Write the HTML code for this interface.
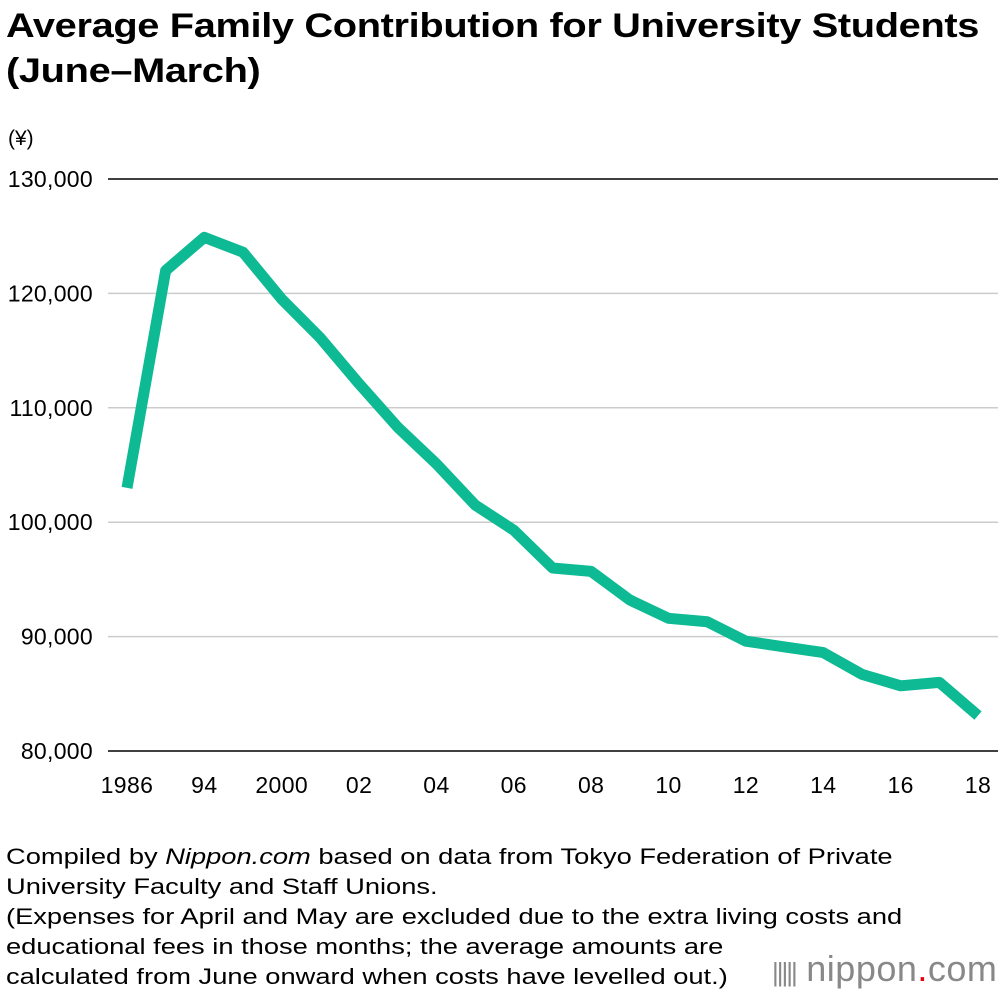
<!DOCTYPE html>
<html><head><meta charset="utf-8"><style>
body{margin:0;width:1000px;height:992px;background:#fff;font-family:"Liberation Sans",sans-serif;color:#000;overflow:hidden;position:relative}
.title{position:absolute;left:6px;top:4px;font-size:34px;font-weight:bold;line-height:45px;letter-spacing:-0.3px;transform:scaleX(1.17);transform-origin:0 0;white-space:nowrap}
.note{position:absolute;left:6px;top:842px;font-size:22px;line-height:30px;transform:scaleX(1.24);transform-origin:0 0;white-space:nowrap}
.logo{position:absolute;left:772px;top:948px;font-size:36px;color:#888;letter-spacing:0.5px;white-space:nowrap}
</style></head><body>
<div class="title">Average Family Contribution for University Students<br>(June–March)</div>
<svg id="chart" width="1000" height="820" style="position:absolute;left:0;top:0"></svg>
<div class="note">Compiled by <i>Nippon.com</i> based on data from Tokyo Federation of Private<br>University Faculty and Staff Unions.<br>(Expenses for April and May are excluded due to the extra living costs and<br>educational fees in those months; the average amounts are<br>calculated from June onward when costs have levelled out.)</div>
<div class="logo"><span style="font-size:26px;letter-spacing:-2px">|||||</span> nippon<span style="color:#e60012">.</span>com</div>
<script>
const categories=["1986","1990","94","1997","2000","01","02","03","04","05","06","07","08","09","10","11","12","13","14","15","16","17","18"];
const tickLabels=["1986","","94","","2000","","02","","04","","06","","08","","10","","12","","14","","16","","18"];
const values=[103000,122000,124900,123600,119500,116100,112100,108300,105100,101500,99300,96000,95700,93200,91600,91300,89600,89100,88600,86700,85700,86000,83100];
const yTicks=[80000,90000,100000,110000,120000,130000];
const svg=document.getElementById('chart');const NS='http://www.w3.org/2000/svg';
const x=i=>127+i*(978-127)/(categories.length-1);
const y=v=>751-(v-80000)*(751-179)/50000;
function mk(t,a){const e=document.createElementNS(NS,t);for(const k in a)e.setAttribute(k,a[k]);svg.appendChild(e);return e;}
const u=mk('text',{x:8,y:145,'font-size':21});u.textContent='(¥)';


yTicks.forEach(v=>{
 const edge=(v===80000||v===130000);
 const l=mk('line',{x1:108,x2:998,y1:y(v),y2:y(v),stroke:edge?'#000':'#ccc','stroke-width':1.5});
 
 
 const t=mk('text',{x:93,y:y(v)+8,'font-size':23,'letter-spacing':0.3,'text-anchor':'end'});t.textContent=v.toLocaleString('en-US');
 
 
});
tickLabels.forEach((s,i)=>{if(!s)return;
 const t=mk('text',{x:x(i),y:793,'font-size':23,'letter-spacing':0.4,'text-anchor':'middle'});t.textContent=s;
 
 
});
const p=mk('polyline',{points:values.map((v,i)=>x(i)+','+y(v)).join(' '),fill:'none',stroke:'#0dba93','stroke-width':11,'stroke-linejoin':'round','stroke-linecap':'butt'});


</script>
</body></html>
